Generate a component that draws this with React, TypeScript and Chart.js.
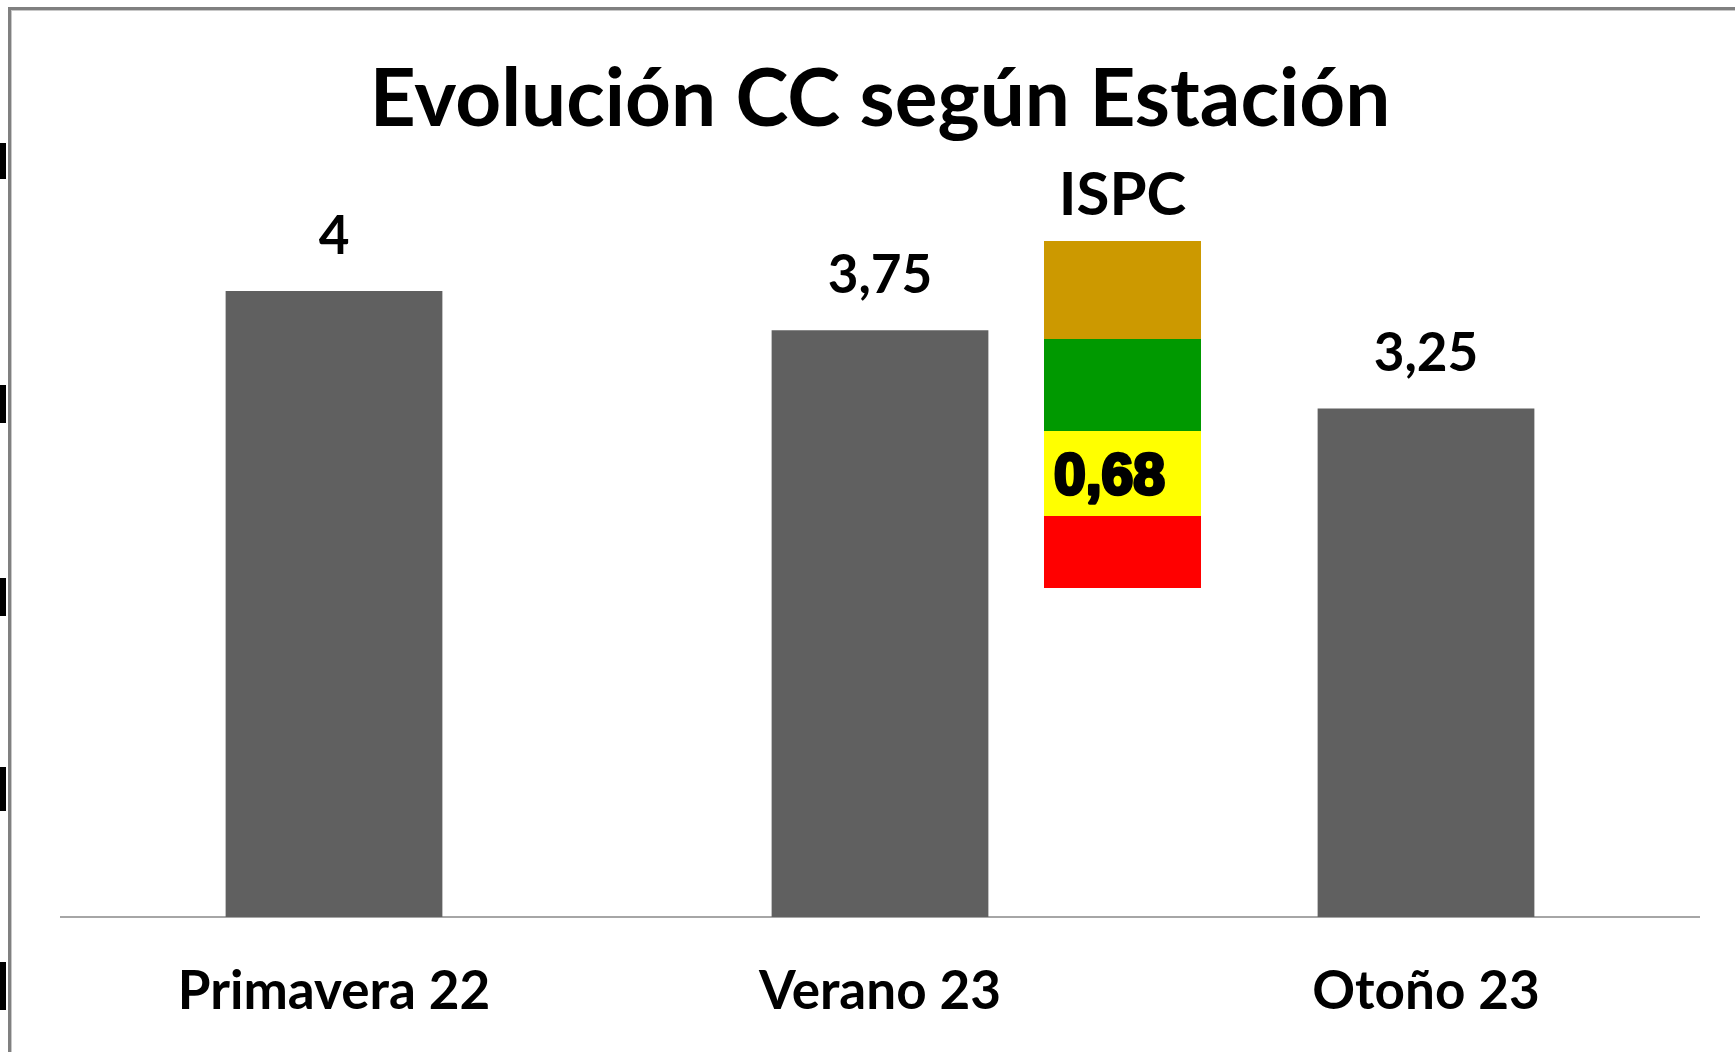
import React, { useEffect, useRef } from "react";
import { Chart, registerables } from "chart.js";
Chart.register(...registerables);

const chartTitle = "Evolución CC según Estación";
const categories = ["Primavera 22", "Verano 23", "Otoño 23"];
const ccValues = [4, 3.75, 3.25];
const valueLabels = ["4", "3,75", "3,25"];
const ispcTitle = "ISPC";
const ispcValueLabel = "0,68";
const ispcBandColors = ["#CC9900", "#009900", "#FFFF00", "#FF0000"];
const ispcValueBandIndex = 2;

const W = 1735;
const H = 1070;

export default function App() {
  const ref = useRef<HTMLCanvasElement>(null);
  useEffect(() => {
    const decoPlugin = {
      id: "deco",
      beforeDraw(chart: any) {
        const ctx = chart.ctx;
        ctx.save();
        ctx.fillStyle = "#ffffff";
        ctx.fillRect(0, 0, W, H);
        // frame
        ctx.fillStyle = "#808080";
        ctx.fillRect(8, 7, W - 8, 3);
        ctx.fillRect(8, 7, 3, H);
        ctx.fillStyle = "#c8c8c8";
        ctx.fillRect(11, 10, W - 11, 1);
        ctx.fillRect(11, 10, 1, H);
        // cut-off fragments at the left edge
        ctx.fillStyle = "#000";
        [[143, 36], [385, 38], [578, 38], [767, 44], [962, 48]].forEach(([y, h]) => {
          ctx.fillRect(0, y, 6, h);
        });
        ctx.restore();
      },
      afterDatasetsDraw(chart: any) {
        const ctx = chart.ctx;
        const meta = chart.getDatasetMeta(0);
        ctx.save();
        ctx.font = "bold 53px Lato";
        ctx.fillStyle = "#000";
        ctx.textAlign = "center";
        ctx.textBaseline = "alphabetic";
        meta.data.forEach((el: any, i: number) => {
          ctx.fillText(valueLabels[i], el.x, el.y - 37);
        });

        // ISPC indicator
        const bx = 1044, bw = 157;
        const edges = [241, 339, 431, 516, 588];
        ctx.font = "bold 60px Lato";
        ctx.textAlign = "center";
        ctx.fillText(ispcTitle, bx + bw / 2, 215);
        ispcBandColors.forEach((c, i) => {
          ctx.fillStyle = c;
          ctx.fillRect(bx, edges[i], bw, edges[i + 1] - edges[i]);
        });
        const y0 = edges[ispcValueBandIndex], y1 = edges[ispcValueBandIndex + 1];
        ctx.font = "bold 57px 'Liberation Sans'";
        ctx.textAlign = "left";
        ctx.fillStyle = "#000";
        ctx.strokeStyle = "#000";
        ctx.lineWidth = 3.5;
        ctx.lineJoin = "round";
        const ty = y0 + (y1 - y0) / 2 + 20;
        ctx.strokeText(ispcValueLabel, 1054, ty);
        ctx.fillText(ispcValueLabel, 1054, ty);
        ctx.restore();
      },
    };

    const chart = new Chart(ref.current as HTMLCanvasElement, {
      type: "bar",
      data: {
        labels: categories,
        datasets: [
          {
            data: ccValues,
            backgroundColor: "#606060",
            categoryPercentage: 1,
            barPercentage: 0.397,
          },
        ],
      },
      options: {
        responsive: false,
        animation: false,
        layout: { padding: { left: 61, right: 36, top: 0, bottom: 3 } },
        plugins: {
          legend: { display: false },
          tooltip: { enabled: false },
          title: {
            display: true,
            text: chartTitle,
            color: "#000",
            font: { family: "Lato", size: 80, weight: "bold", lineHeight: 1 },
            padding: { top: 60, bottom: 25.8 },
          },
        },
        scales: {
          x: {
            grid: { display: false, drawTicks: false },
            border: { display: true, color: "#a6a6a6", width: 2 },
            ticks: {
              color: "#000",
              font: { family: "Lato", size: 53, weight: "bold", lineHeight: 1 },
              padding: 48.5,
            },
          },
          y: { display: false, min: 0, max: 4.8 },
        },
      },
      plugins: [decoPlugin],
    });
    return () => chart.destroy();
  }, []);

  return (
    <div style={{ position: "absolute", left: 0, top: 0, width: W, height: 1052, overflow: "hidden", background: "#fff" }}>
      <canvas ref={ref} width={W} height={H} style={{ display: "block" }} />
    </div>
  );
}
